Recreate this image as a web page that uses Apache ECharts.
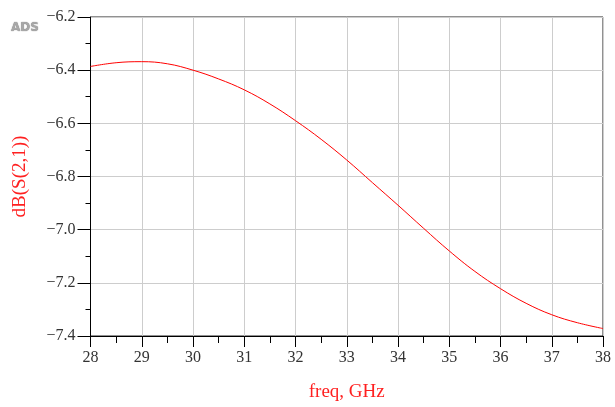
<!DOCTYPE html>
<html>
<head>
<meta charset="utf-8">
<script src="https://cdn.jsdelivr.net/npm/echarts@6/dist/echarts.min.js"></script>
<style>
html,body{margin:0;padding:0;background:#fff;}
#chart{width:615px;height:407px;}
</style>
</head>
<body>
<div id="chart"></div>
<script>
var freqGHz = [28, 28.5, 29, 29.5, 30, 30.5, 31, 31.5, 32, 32.5, 33, 33.5, 34, 34.5, 35, 35.5, 36, 36.5, 37, 37.5, 38];
var dbS21 = [-6.386, -6.372, -6.368, -6.376, -6.400, -6.433, -6.474, -6.527, -6.590, -6.660, -6.738, -6.823, -6.908, -6.995, -7.080, -7.157, -7.222, -7.277, -7.320, -7.350, -7.372];
var xTicks = [28, 29, 30, 31, 32, 33, 34, 35, 36, 37, 38];
var yTicks = [-7.4, -7.2, -7.0, -6.8, -6.6, -6.4, -6.2];
var xName = 'freq, GHz';
var yName = 'dB(S(2,1))';

var pts = freqGHz.map(function (f, i) { return [f, dbS21[i]]; });
var FONT = '"Liberation Serif", "DejaVu Serif", serif';

var chart = echarts.init(document.getElementById('chart'));
chart.setOption({
  animation: false,
  backgroundColor: '#fff',
  grid: { left: 90.5, right: 12, top: 17, bottom: 69, show: true, borderColor: '#222', borderWidth: 1, backgroundColor: 'transparent' },
  graphic: [{
    type: 'text', left: 11, top: 22,
    style: { text: 'ADS', fill: '#a8a8a8', font: 'bold 12px "DejaVu Sans", sans-serif', textShadowColor: '#666', textShadowBlur: 1 }
  }],
  xAxis: {
    type: 'value', min: xTicks[0], max: xTicks[xTicks.length - 1], interval: 1,
    name: xName, nameLocation: 'middle', nameGap: 47,
    nameTextStyle: { color: '#ff2020', fontFamily: FONT, fontSize: 19 },
    axisLine: { show: true, onZero: false, lineStyle: { color: '#000', width: 1 } },
    axisTick: { show: true, inside: false, length: 11, lineStyle: { color: '#000' } },
    minorTick: { show: true, splitNumber: 2, length: 7, lineStyle: { color: '#000' } },
    axisLabel: { color: '#333', fontFamily: FONT, fontSize: 16, margin: 14 },
    splitLine: { show: true, lineStyle: { color: '#cdcdcd', width: 1 } }
  },
  yAxis: {
    type: 'value', min: yTicks[0], max: yTicks[yTicks.length - 1], interval: 0.2,
    name: yName, nameLocation: 'middle', nameGap: 61, nameRotate: 90,
    nameTextStyle: { color: '#ff2020', fontFamily: FONT, fontSize: 19 },
    axisLine: { show: true, onZero: false, lineStyle: { color: '#000', width: 1 } },
    axisTick: { show: true, inside: false, length: 13, lineStyle: { color: '#000' } },
    minorTick: { show: true, splitNumber: 2, length: 5, lineStyle: { color: '#000' } },
    axisLabel: {
      color: '#333', fontFamily: FONT, fontSize: 16, margin: 15,
      formatter: function (v) { return (v < 0 ? '\u2212' : '') + Math.abs(v).toFixed(1); }
    },
    splitLine: { show: true, lineStyle: { color: '#cdcdcd', width: 1 } }
  },
  series: [{
    type: 'line', data: pts, smooth: 0.4, showSymbol: false,
    lineStyle: { color: '#ff0000', width: 1 }
  }]
});
</script>
</body>
</html>
